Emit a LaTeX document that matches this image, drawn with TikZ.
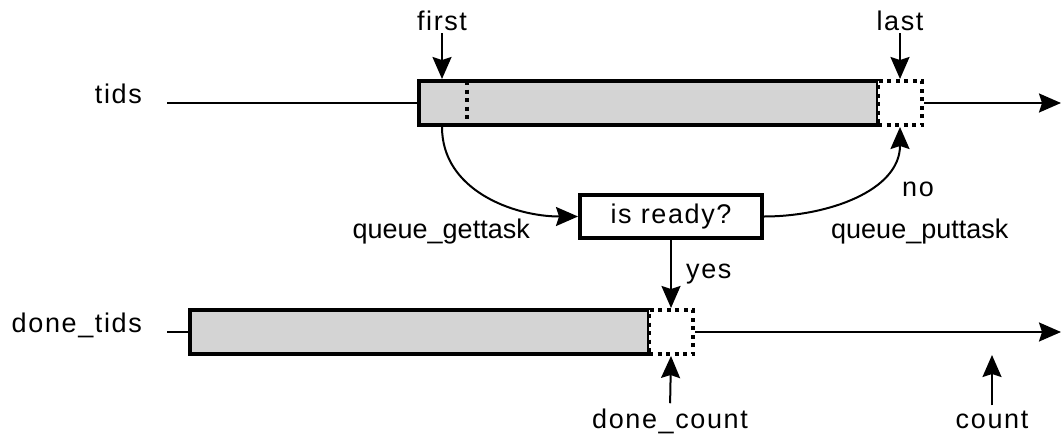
\documentclass[tikz,border=0pt]{standalone}
\usepackage{fontspec}
\setmainfont{Liberation Sans}
\newfontfamily\spfont[LetterSpace=6]{Liberation Sans}
\usetikzlibrary{arrows.meta}
\begin{document}
\begin{tikzpicture}[x=1pt,y=-1pt,
  thinline/.style={line width=2pt},
  arr/.style={line width=2pt,-{Stealth[length=22pt,width=19pt,inset=3pt]}},
  queuebox/.style={draw,line width=4pt,fill=black!17,inner sep=0pt,minimum height=44pt},
  slot/.style={draw,line width=4pt,dash pattern=on 4pt off 4.5pt,fill=white,inner sep=0pt,minimum width=44pt,minimum height=44pt},
  dotline/.style={line width=4pt,dash pattern=on 4pt off 4.5pt},
  lbl/.style={inner sep=0pt,font=\spfont\fontsize{27}{32}\selectfont},
  plainlbl/.style={inner sep=0pt,font=\fontsize{27}{32}\selectfont},
  decision/.style={draw,line width=4pt,fill=white,minimum width=182pt,minimum height=43pt,inner sep=0pt,font=\spfont\fontsize{27}{32}\selectfont}
]
\useasboundingbox (0,0) rectangle (1062,434);
% tids queue
\node[queuebox,minimum width=459pt] (tids) at (648.5,103) {};
\node[inner sep=0pt,outer sep=2pt,minimum width=46pt,minimum height=44pt] (fcell) at (442,103) {};
\draw[dotline] ([yshift=-2pt]fcell.north east) -- ([yshift=2pt]fcell.south east);
\node[slot] (tslot) at (900,103) {};
\coordinate (tidsL) at (167,103);
\coordinate (tidsR) at (1061,103);
\draw[thinline] (tidsL) -- (tids.west);
\draw[arr] (tslot.east) -- (tidsR);
\node[lbl,anchor=base east] (tidslbl) at (142,103) {tids};
% labels first / last
\node[lbl,anchor=base] (first) at (442,30) {first};
\node[lbl,anchor=base] (last) at (900,30) {last};
\draw[arr,shorten <=3pt] (first.south) -- (fcell.north);
\draw[arr,shorten <=3pt] (last.south) -- (tslot.north);
% decision
\node[decision] (ready) at (671,216.5) {is ready?};
\draw[arr] (fcell.south) to[out=-90,in=180] (ready.west);
\draw[arr] (ready.east) to[out=0,in=-90] (tslot.south);
\node[plainlbl,anchor=base east] (get) at (530,238) {queue\_gettask};
\node[plainlbl,anchor=base west] (put) at (831,238) {queue\_puttask};
\node[lbl,anchor=base west] (no) at (902,196) {no};
% done queue
\node[queuebox,minimum width=459pt] (done) at (419.5,332) {};
\node[slot] (dslot) at (671,332) {};
\coordinate (doneL) at (167,332);
\coordinate (doneR) at (1061,332);
\draw[thinline] (doneL) -- (done.west);
\draw[arr] (dslot.east) -- (doneR);
\node[lbl,anchor=base east] (donelbl) at (142,332) {done\_tids};
\draw[arr] (ready.south) -- (dslot.north);
\node[lbl,anchor=base west] (yes) at (686,278) {yes};
% bottom labels
\node[lbl,anchor=base] (dcount) at (670,428) {done\_count};
\node[lbl,anchor=base] (count) at (992,428) {count};
\coordinate (countT) at (992,355);
\draw[arr,shorten <=5pt] (dcount.north) -- (dslot.south);
\draw[arr,shorten <=5pt] (count.north) -- (countT);
\end{tikzpicture}
\end{document}
